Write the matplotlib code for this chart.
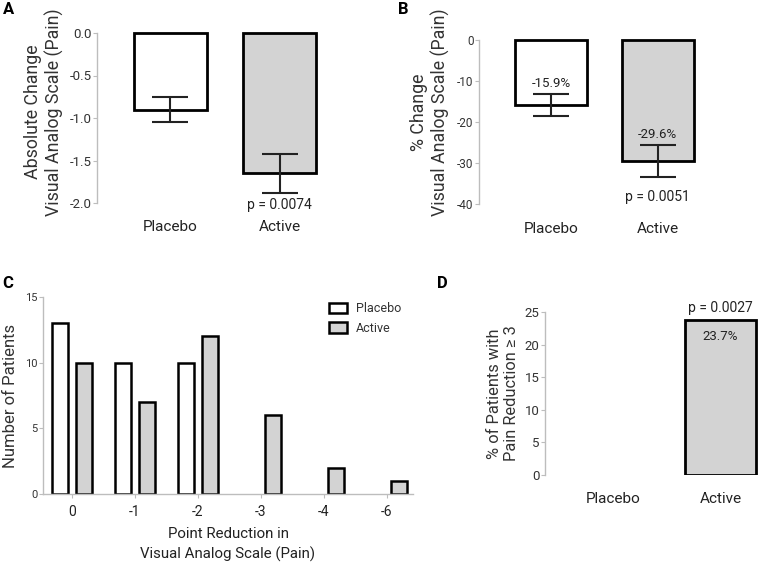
import numpy as np
import matplotlib.pyplot as plt

plt.rcParams['font.family'] = ['Roboto', 'DejaVu Sans']
plt.rcParams['axes.unicode_minus'] = False

# ── Data ──────────────────────────────────────────────────────
groups = ["Placebo", "Active"]

abs_change = [-0.90, -1.65]       # panel A, mean change in VAS
abs_sem    = [0.15, 0.23]
p_abs      = "p = 0.0074"

pct_change = [-15.9, -29.6]       # panel B, % change in VAS
pct_sem    = [2.7, 3.9]
pct_labels = ["-15.9%", "-29.6%"]
p_pct      = "p = 0.0051"

reduction_levels = ["0", "-1", "-2", "-3", "-4", "-6"]   # panel C
placebo_counts   = [13, 10, 10, 0, 0, 0]
active_counts    = [10, 7, 12, 6, 2, 1]

responders_pct = [0.0, 23.7]      # panel D, % with reduction >= 3
resp_label     = "23.7%"
p_resp         = "p = 0.0027"

# ── Style ─────────────────────────────────────────────────────
W, H = 760, 564
TXT   = "#333333"
SPINE = "#bdbdbd"
GREY  = "#d3d3d3"
fills = ["white", GREY]

fig = plt.figure(figsize=(W / 100, H / 100), dpi=100)


def px_axes(l, t, r, b):
    return fig.add_axes([l / W, 1 - b / H, (r - l) / W, (b - t) / H])


def style(ax, ytick_size, xaxis=False):
    for s in ["top", "right"]:
        ax.spines[s].set_visible(False)
    ax.spines["left"].set_color(SPINE)
    ax.spines["left"].set_linewidth(1.0)
    if xaxis:
        ax.spines["bottom"].set_color(SPINE)
        ax.spines["bottom"].set_linewidth(1.0)
    else:
        ax.spines["bottom"].set_visible(False)
    ax.tick_params(axis="y", colors=SPINE, labelcolor=TXT, labelsize=ytick_size,
                   length=3, width=0.8, pad=1)
    ax.set_facecolor("none")


def hide_empty(bars):
    # zero-height bars leave no outline in the original
    for b in bars:
        if b.get_height() == 0:
            b.set_linewidth(0)


x2 = np.arange(len(groups))

# ── A: absolute change ────────────────────────────────────────
ax = px_axes(97, 33, 353, 203)
ax.bar(x2, abs_change, width=0.67, color=fills, edgecolor="black", lw=2.0,
       clip_on=False, zorder=2)
ax.errorbar(x2, abs_change, yerr=abs_sem, fmt="none", ecolor="#222222",
            elinewidth=1.5, capsize=13, capthick=1.5, zorder=3, clip_on=False)
ax.set_xlim(-0.67, 1.67)
ax.set_ylim(-2.0, 0.0)
ax.set_yticks([0.0, -0.5, -1.0, -1.5, -2.0])
ax.set_yticklabels(["0.0", "-0.5", "-1.0", "-1.5", "-2.0"])
style(ax, 9.5)
ax.set_xticks(x2)
ax.set_xticklabels(groups)
ax.tick_params(axis="x", length=0, pad=12, labelsize=11, labelcolor="#222222")
ax.set_ylabel("Absolute Change\nVisual Analog Scale (Pain)", fontsize=12.8,
              color=TXT, linespacing=1.2)
ax.yaxis.set_label_coords(-0.13, 0.535)
ax.annotate(p_abs, xy=(1, abs_change[1] - abs_sem[1]), xytext=(0, -4),
            textcoords="offset points", ha="center", va="top", fontsize=10,
            color="#222222", annotation_clip=False)

# ── B: percent change ─────────────────────────────────────────
ax = px_axes(479, 40, 730, 204)
ax.bar(x2, pct_change, width=0.68, color=fills, edgecolor="black", lw=2.0,
       clip_on=False, zorder=2)
ax.errorbar(x2, pct_change, yerr=pct_sem, fmt="none", ecolor="#222222",
            elinewidth=1.5, capsize=13, capthick=1.5, zorder=3, clip_on=False)
ax.set_xlim(-0.68, 1.68)
ax.set_ylim(-40, 0)
ax.set_yticks([0, -10, -20, -30, -40])
style(ax, 8.5)
ax.set_xticks(x2)
ax.set_xticklabels(groups)
ax.tick_params(axis="x", length=0, pad=13, labelsize=11, labelcolor="#222222")
ax.set_ylabel("% Change\nVisual Analog Scale (Pain)", fontsize=12.8,
              color=TXT, linespacing=1.2)
ax.yaxis.set_label_coords(-0.115, 0.56)
for xi, v, e, lab in zip(x2, pct_change, pct_sem, pct_labels):
    ax.annotate(lab, xy=(xi, v + e), xytext=(0, 3), textcoords="offset points",
                ha="center", va="bottom", fontsize=9.5, color="#222222")
ax.annotate(p_pct, xy=(1, pct_change[1] - pct_sem[1]), xytext=(0, -9),
            textcoords="offset points", ha="center", va="top", fontsize=10,
            color="#222222", annotation_clip=False)

# ── C: distribution of point reductions ───────────────────────
ax = px_axes(43, 297, 413, 494)
xc = np.arange(len(reduction_levels))
bw, off = 0.254, 0.19
b1 = ax.bar(xc - off, placebo_counts, width=bw, color="white",
            edgecolor="black", lw=1.8, label="Placebo", zorder=2)
b2 = ax.bar(xc + off, active_counts, width=bw, color=GREY,
            edgecolor="black", lw=1.8, label="Active", zorder=2)
hide_empty(b1)
hide_empty(b2)
ax.set_xlim(-0.46, 5.42)
ax.set_ylim(0, 15)
ax.set_yticks([0, 5, 10, 15])
style(ax, 8, xaxis=True)
ax.set_xticks(xc)
ax.set_xticklabels(reduction_levels)
ax.tick_params(axis="x", colors=SPINE, labelcolor="#222222", labelsize=10,
               length=3, width=0.8, pad=5)
ax.set_ylabel("Number of Patients", fontsize=12, color=TXT)
ax.yaxis.set_label_coords(-0.068, 0.5)
ax.set_xlabel("Point Reduction in\nVisual Analog Scale (Pain)", fontsize=10.8,
              color="#222222", linespacing=1.4, labelpad=6)
leg = ax.legend(loc="upper left", bbox_to_anchor=(0.76, 1.0), frameon=False,
                fontsize=9, handlelength=1.45, handleheight=0.9,
                handletextpad=0.7, labelspacing=0.55, borderaxespad=0)
for t in leg.get_texts():
    t.set_color(TXT)

# ── D: responders ─────────────────────────────────────────────
ax = px_axes(545, 312, 760, 475)
bd = ax.bar(x2, responders_pct, width=0.66, color=fills, edgecolor="black",
            lw=2.0, zorder=2)
hide_empty(bd)
ax.set_xlim(-0.64, 1.37)
ax.set_ylim(0, 25)
ax.set_yticks([0, 5, 10, 15, 20, 25])
style(ax, 9.5)
ax.set_xticks(x2)
ax.set_xticklabels(groups)
ax.tick_params(axis="x", length=0, pad=12, labelsize=11, labelcolor="#222222")
ax.set_ylabel("% of Patients with\nPain Reduction \u2265 3", fontsize=11.8,
              color=TXT, linespacing=1.2)
ax.yaxis.set_label_coords(-0.12, 0.5)
ax.annotate(p_resp, xy=(1, responders_pct[1]), xytext=(0, 4),
            textcoords="offset points", ha="center", va="bottom", fontsize=10,
            color="#222222")
ax.annotate(resp_label, xy=(1, responders_pct[1]), xytext=(0, -7),
            textcoords="offset points", ha="center", va="top", fontsize=9.5,
            color="#222222")

# ── Panel letters ─────────────────────────────────────────────
for letter, (px, py) in {"A": (3, 10), "B": (398, 10),
                         "C": (2, 284), "D": (437, 284)}.items():
    fig.text(px / W, 1 - py / H, letter, fontsize=12, fontweight="bold",
             ha="left", va="center", color="black")

fig.savefig("out.png", dpi=100)
